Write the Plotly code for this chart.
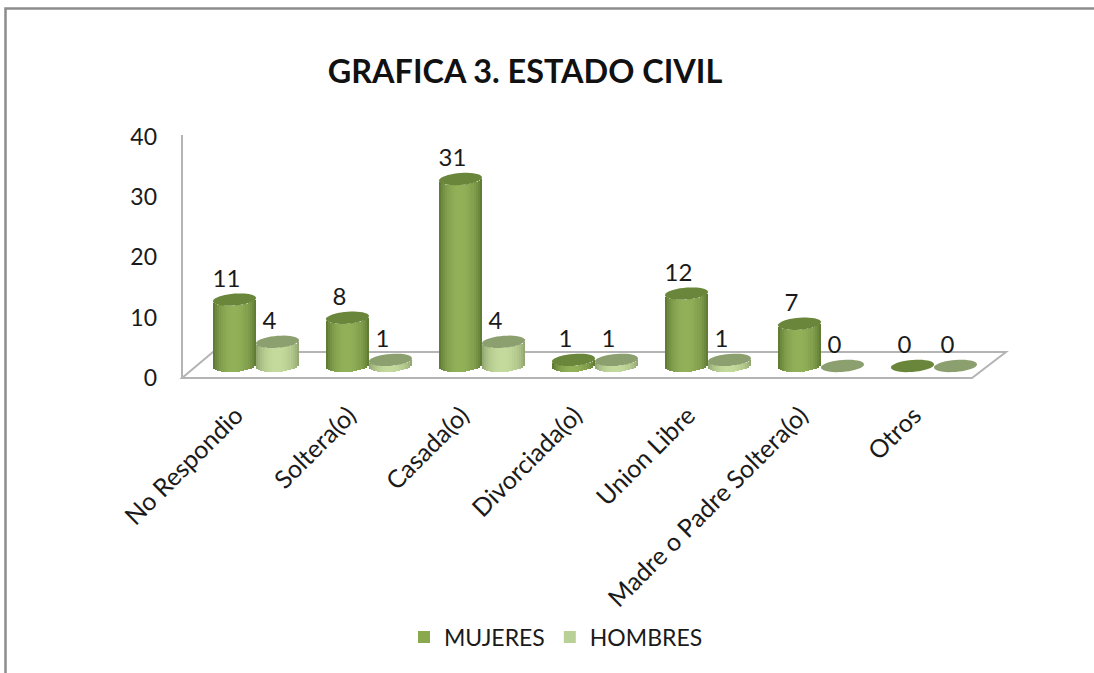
import numpy as np
import plotly.graph_objects as go

categories = ["No Respondio", "Soltera(o)", "Casada(o)", "Divorciada(o)", "Union Libre",
              "Madre o Padre Soltera(o)", "Otros"]
mujeres = [11, 8, 31, 1, 12, 7, 0]
hombres = [4, 1, 4, 1, 1, 0, 0]
y_ticks = [0, 10, 20, 30, 40]
title_text = "GRAFICA 3. ESTADO CIVIL"

W, H = 1094, 673
FONT = "Lato"
INK = "#1a1a1a"

# pixel geometry of the plot
GROUP_PX = 113.0
FIRST_CENTER_PX = 256.0
UNIT_PX = 6.03
ZERO_PX = 378.0
L_PX, R_PX, T_PX = 176.0, 1014.0, 128.0
BOT_PX = 384.0

def to_x(px):
    return (px - FIRST_CENTER_PX) / GROUP_PX

def to_y(px):
    return (ZERO_PX - px) / UNIT_PX

def paper_x(px):
    return (px - L_PX) / (R_PX - L_PX)

def paper_y(px):
    return (BOT_PX - px) / (BOT_PX - T_PX)

DEPTH = 2.0              # bars stand on the floor, this far behind the front edge
HALF_W = 21.5 / GROUP_PX
CAP_H = 6.0 / UNIT_PX
TILT = 1.6 / UNIT_PX
N_STRIPS = 21

x_pos = np.arange(len(categories), dtype=float)

def mix(a, b, f):
    a = np.array(a); b = np.array(b)
    c = a + (b - a) * f
    return "rgb(%d,%d,%d)" % tuple(np.round(c))

series = [
    dict(name="MUJERES", values=mujeres, side=-1, edge=(88, 114, 46), mid=(145, 176, 88),
         cap="#6a863a", legend="#8aa84d"),
    dict(name="HOMBRES", values=hombres, side=1, edge=(140, 160, 108), mid=(196, 218, 156),
         cap="#8ca06f", legend="#b9d096"),
]

fig = go.Figure()
shapes = []

# floor and axis wall
shapes.append(dict(type="path", xref="x", yref="y", layer="below",
    path="M %f,0 L %f,%f L %f,%f L %f,0 Z" % (to_x(182), to_x(213), to_y(352), to_x(1006), to_y(352), to_x(972)),
    fillcolor="white", line=dict(color="#b4b4b4", width=2)))
shapes.append(dict(type="line", xref="x", yref="y", layer="below",
    x0=to_x(182), x1=to_x(182), y0=0, y1=to_y(135), line=dict(color="#b4b4b4", width=2)))
# outer chart frame
shapes.append(dict(type="path", xref="paper", yref="paper", layer="below",
    path="M %f,%f L %f,%f L %f,%f" % (paper_x(5.5), paper_y(H), paper_x(5.5), paper_y(8.5), paper_x(W), paper_y(8.5)),
    line=dict(color="#8c8c8c", width=2.5)))

ts = (np.arange(N_STRIPS) + 0.5) / N_STRIPS * 2 - 1
strip_w = 2 * HALF_W / N_STRIPS

for s in series:
    centers = x_pos + s["side"] * HALF_W
    for i, t in enumerate(ts):
        curve = CAP_H * np.sqrt(max(1 - t * t, 0)) - TILT * t
        shade = (1 - abs(t) ** 2.2) ** 0.8
        col = mix(s["edge"], s["mid"], shade)
        fig.add_trace(go.Bar(
            x=centers + t * HALF_W,
            y=s["values"],
            base=DEPTH - curve,
            width=strip_w * 1.3,
            marker=dict(color=col, line=dict(width=0)),
            showlegend=False,
            hoverinfo="skip",
            cliponaxis=False,
        ))
    # legend entry
    fig.add_trace(go.Bar(x=[None], y=[None], name=s["name"],
                         marker=dict(color=s["legend"], line=dict(width=0))))
    # top cap ellipses
    angles = np.linspace(0, 2 * np.pi, 41)
    for cx, v in zip(centers, s["values"]):
        xs = cx + HALF_W * np.cos(angles)
        ys = DEPTH + v + CAP_H * np.sin(angles) + TILT * np.cos(angles)
        shapes.append(dict(type="path", xref="x", yref="y", layer="above",
            path="M " + " L ".join("%.4f,%.4f" % p for p in zip(xs, ys)) + " Z",
            fillcolor=s["cap"], line=dict(width=0)))
    # value labels
    fig.add_trace(go.Scatter(
        x=centers - 8.0 / GROUP_PX,
        y=np.array(s["values"]) + DEPTH + 19.0 / UNIT_PX,
        mode="text",
        text=[str(v) for v in s["values"]],
        textposition="middle center",
        textfont=dict(family=FONT, size=24, color=INK),
        showlegend=False, hoverinfo="skip", cliponaxis=False,
    ))

fig.update_layout(
    width=W, height=H,
    paper_bgcolor="white", plot_bgcolor="rgba(0,0,0,0)",
    margin=dict(l=L_PX, r=W - R_PX, t=T_PX, b=H - BOT_PX, autoexpand=False),
    barmode="overlay",
    bargap=0,
    shapes=shapes,
    font=dict(family=FONT, color=INK),
    title=dict(text="<b>%s</b>" % title_text, x=525 / W, xanchor="center", xref="container",
               y=1 - 72 / H, yanchor="middle", yref="container",
               font=dict(family=FONT, size=32.4, color="#111111")),
    legend=dict(orientation="h", xref="container", yref="container",
                x=556 / W, xanchor="center", y=1 - 637 / H, yanchor="middle",
                font=dict(family=FONT, size=23, color=INK), itemwidth=30,
                bgcolor="rgba(0,0,0,0)", traceorder="normal"),
    xaxis=dict(
        range=[to_x(L_PX), to_x(R_PX)],
        tickmode="array", tickvals=list(x_pos), ticktext=categories,
        tickangle=-45, ticks="", showgrid=False, zeroline=False, showline=False,
        tickfont=dict(family=FONT, size=25, color=INK),
        ticklabelstandoff=11, ticklabelshift=-20,
    ),
    yaxis=dict(
        range=[to_y(BOT_PX), to_y(T_PX)],
        tickmode="array", tickvals=y_ticks,
        showgrid=False, zeroline=False, showline=False, ticks="",
        tickfont=dict(family=FONT, size=23, color=INK),
        ticklabelstandoff=18,
    ),
)

fig.write_html("out.html", config=dict(displayModeBar=False),
               post_script="document.body.style.margin='0';")
